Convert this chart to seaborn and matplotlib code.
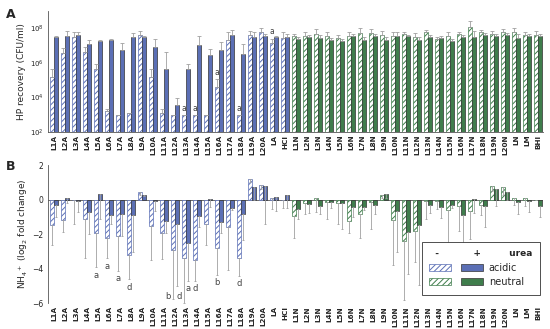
import numpy as np
import pandas as pd
import matplotlib
matplotlib.use("Agg")
import matplotlib.pyplot as plt
import seaborn as sns
from matplotlib.patches import Patch
from matplotlib.legend_handler import HandlerTuple

# categories: 22 acidic (L1A..L20A, LA, HCl) then 23 neutral
categories = [f"L{i}A" for i in range(1, 21)] + ["LA", "HCl"] + \
             [f"L{i}N" for i in range(1, 21)] + ["LN", "LM", "BHI"]
n_acidic = 22

# panel A: HP recovery, log10(CFU/ml); "top" = upper end of error bar
rec_minus = [5.16, 6.56, 7.47, 6.65, 5.65, 3.2, 2.97, 3.07, 7.62, 5.16, 3.1, 2.97, 2.97, 2.97, 2.97,
             4.58, 7.29, 2.97, 7.62, 7.76, 7.14, 7.45,
             7.52, 7.56, 7.68, 7.56, 7.44, 7.56, 7.72, 7.72, 7.62, 7.52, 7.64, 7.48, 7.76, 7.37, 7.56,
             7.64, 8.07, 7.78, 7.64, 7.76, 7.78, 7.62, 7.62]
rec_minus_top = [5.65, 6.88, 7.76, 6.9, 5.92, 3.32, 2.97, 3.07, 7.85, 5.63, 3.3, 2.97, 2.97, 2.97, 2.97,
                 5.05, 7.76, 2.97, 7.83, 8.0, 7.4, 7.8,
                 7.68, 7.75, 7.95, 7.78, 7.62, 7.8, 8.02, 7.95, 7.85, 7.78, 7.8, 7.72, 7.92, 7.5, 7.75,
                 7.8, 8.43, 7.9, 7.86, 7.95, 8.03, 7.8, 7.82]
rec_plus = [7.47, 7.56, 7.62, 7.08, 7.25, 7.33, 6.75, 7.47, 7.47, 6.9, 5.65, 3.55, 5.63, 7.04, 6.46,
            6.75, 7.62, 6.5, 7.47, 7.56, 7.49, 7.5,
            7.37, 7.47, 7.44, 7.33, 7.23, 7.52, 7.33, 7.52, 7.33, 7.52, 7.52, 7.29, 7.47, 7.44, 7.23,
            7.47, 7.47, 7.62, 7.52, 7.58, 7.44, 7.52, 7.52]
rec_plus_top = [7.56, 7.81, 7.8, 7.29, 7.3, 7.4, 7.17, 7.72, 7.56, 7.37, 6.6, 3.94, 5.92, 7.52, 6.79,
                7.2, 7.91, 7.08, 7.76, 7.66, 7.56, 7.68,
                7.5, 7.62, 7.6, 7.45, 7.35, 7.68, 7.5, 7.65, 7.5, 7.75, 7.62, 7.5, 7.58, 7.55, 7.38,
                7.58, 7.82, 7.72, 7.64, 7.72, 7.66, 7.66, 7.66]

# panel B: NH4+ log2 fold change; "low" = lower end of error bar
nh4_minus = [-1.45, -1.2, -0.03, -1.1, -1.95, -2.2, -2.1, -3.2, 0.45, -1.5, -1.95, -2.9, -3.35, -3.5, -1.4,
             -2.8, -1.6, -3.35, 1.2, 0.85, 0.12, 0.0,
             -0.96, -0.2, 0.1, -0.15, -0.2, -1.23, -0.8, -0.15, 0.25, -1.15, -2.4, -1.8, -0.1, -0.05, -0.6,
             -0.35, -0.65, -0.3, 0.8, 0.75, 0.1, 0.1, 0.0]
nh4_minus_low = [-2.6, -1.85, -1.4, -3.35, -3.9, -3.4, -4.1, -4.6, 0.3, -3.5, -3.45, -5.75, -6.0, -4.7, -2.65,
                 -4.35, -4.05, -4.4, 1.0, 0.6, -0.55, -0.5,
                 -2.2, -0.8, -0.7, -1.1, -1.4, -1.9, -2.2, -1.7, 0.1, -3.8, -5.8, -3.6, -1.1, -0.55, -3.0,
                 -1.8, -2.3, -0.9, 0.5, 0.3, -0.3, -0.35, 0.0]
nh4_plus = [-0.3, 0.12, -0.05, -0.7, 0.35, -0.9, -0.85, -0.9, 0.3, -0.05, -1.25, -1.4, -2.5, -0.95, 0.02,
            -1.3, -0.5, -0.8, 0.75, 0.8, 0.15, 0.29,
            -0.55, -0.25, -0.35, -0.15, -0.2, -0.45, -0.45, -0.3, 0.35, -0.65, -1.87, -1.44, -0.3, -0.4, -0.3,
            -0.9, 0.05, -0.35, 0.6, 0.45, -0.15, -0.1, -0.35]
nh4_plus_low = [-1.0, -0.2, -0.7, -2.0, -1.1, -1.4, -2.1, -3.05, 0.2, -0.65, -1.9, -5.0, -4.7, -1.6, -0.45,
                -1.9, -0.6, -2.35, 0.0, -1.4, -0.65, -0.48,
                -1.1, -0.75, -0.8, -0.5, -1.7, -1.0, -0.6, -0.8, 0.1, -3.0, -4.33, -4.94, -0.75, -1.05, -0.5,
                -3.05, -0.75, -1.6, -0.35, 0.0, -0.8, -0.7, -1.0]

# significance letters
letters_a = ["L13A", "L14A", "L16A", "L18A", "LA"]  # 'a' above hatched bars, panel A
letters_b = [("L5A", "-", "a"), ("L6A", "-", "a"), ("L7A", "-", "a"), ("L8A", "-", "d"),
             ("L12A", "-", "b"), ("L13A", "-", "d"), ("L13A", "+", "a"), ("L14A", "-", "d"),
             ("L16A", "-", "b"), ("L18A", "-", "d")]

BLUE = "#5b6fb5"
GREEN = "#3f7d4c"
ERR = "#a0a0a0"

sns.set_style("white")
plt.rcParams["font.family"] = ["DejaVu Sans"]
plt.rcParams["hatch.linewidth"] = 0.7


def long_frame(minus, plus):
    return pd.DataFrame({
        "cat": categories * 2,
        "urea": ["-"] * len(categories) + ["+"] * len(categories),
        "value": list(minus) + list(plus),
    })


def style_bars(ax):
    for k, cont in enumerate(ax.containers[:2]):
        for i, p in enumerate(cont.patches):
            col = BLUE if i < n_acidic else GREEN
            if k == 0:
                p.set_facecolor("white")
                p.set_edgecolor(col)
                p.set_hatch("//////")
            else:
                p.set_facecolor(col)
                p.set_edgecolor("#333333")
            p.set_linewidth(0.5)


def centers(ax, k):
    return np.array([p.get_x() + p.get_width() / 2 for p in ax.containers[k].patches])


fig = plt.figure(figsize=(5.5, 3.29), dpi=100)
axA = fig.add_axes([0.088, 0.599, 0.9, 0.368])
axB = fig.add_axes([0.088, 0.078, 0.9, 0.42])

# ---------- panel A ----------
dfA = long_frame(10 ** np.array(rec_minus), 10 ** np.array(rec_plus))
sns.barplot(data=dfA, x="cat", y="value", hue="urea", hue_order=["-", "+"],
            errorbar=None, width=0.7, legend=False, ax=axA)
axA.set_yscale("log")
style_bars(axA)
for k, (v, t) in enumerate([(rec_minus, rec_minus_top), (rec_plus, rec_plus_top)]):
    v = 10 ** np.array(v)
    t = 10 ** np.array(t)
    axA.errorbar(centers(axA, k), v, yerr=[np.zeros_like(v), t - v], fmt="none",
                 ecolor=ERR, elinewidth=0.6, capsize=1.3, capthick=0.6)
xa = centers(axA, 0)
for c in letters_a:
    i = categories.index(c)
    axA.text(xa[i], 10 ** (rec_minus_top[i] + 0.12), "a", ha="center", va="bottom",
             fontsize=5.5, color="#444444")
axA.set_ylim(1e2, 1e9)
axA.set_xlim(-0.5, len(categories) - 0.5)
axA.set_yticks([1e2, 1e4, 1e6, 1e8])
axA.yaxis.set_minor_locator(matplotlib.ticker.NullLocator())
axA.set_xlabel("")
axA.set_ylabel("HP recovery (CFU/ml)", fontsize=6.5, labelpad=3)
axA.tick_params(axis="y", labelsize=5, length=2, width=0.5, pad=1.5)
axA.tick_params(axis="x", labelsize=5.2, length=0, pad=2, rotation=90)
for lab in axA.get_xticklabels():
    lab.set_fontweight("bold")
sns.despine(ax=axA)
for s in ["left", "bottom"]:
    axA.spines[s].set_linewidth(0.6)
    axA.spines[s].set_color("#555555")

# ---------- panel B ----------
dfB = long_frame(nh4_minus, nh4_plus)
sns.barplot(data=dfB, x="cat", y="value", hue="urea", hue_order=["-", "+"],
            errorbar=None, width=0.7, legend=False, ax=axB)
style_bars(axB)
for k, (v, lo) in enumerate([(nh4_minus, nh4_minus_low), (nh4_plus, nh4_plus_low)]):
    v = np.array(v)
    lo = np.array(lo)
    axB.errorbar(centers(axB, k), v, yerr=[v - lo, np.zeros_like(v)], fmt="none",
                 ecolor=ERR, elinewidth=0.6, capsize=1.0, capthick=0.6)
axB.axhline(0, color="#555555", lw=0.6, zorder=0.5)
for c, u, letter in letters_b:
    i = categories.index(c)
    k = 0 if u == "-" else 1
    lo = (nh4_minus_low if k == 0 else nh4_plus_low)[i]
    x = centers(axB, k)[i]
    y = lo - 0.2
    if y < -5.4:
        y, x = -5.35, x - 0.45
    axB.text(x, y, letter, ha="center", va="top", fontsize=6, color="#444444")
axB.set_ylim(-6, 2)
axB.set_xlim(-0.5, len(categories) - 0.5)
axB.set_yticks([-6, -4, -2, 0, 2])
axB.set_xlabel("")
axB.set_ylabel("NH$_4$$^+$ (log$_2$ fold change)", fontsize=6.5, labelpad=2)
axB.tick_params(axis="y", labelsize=5.5, length=2, width=0.5, pad=1.5)
axB.tick_params(axis="x", labelsize=5.2, length=0, pad=2, rotation=90)
for lab in axB.get_xticklabels():
    lab.set_fontweight("bold")
sns.despine(ax=axB, bottom=True)
axB.spines["left"].set_linewidth(0.6)
axB.spines["left"].set_color("#555555")

handles = [(Patch(facecolor="white", edgecolor=BLUE, hatch="//////", lw=0.5),
            Patch(facecolor=BLUE, edgecolor="#333333", lw=0.5)),
           (Patch(facecolor="white", edgecolor=GREEN, hatch="//////", lw=0.5),
            Patch(facecolor=GREEN, edgecolor="#333333", lw=0.5))]
leg = axB.legend(handles, ["acidic", "neutral"], title="  -           +         urea",
                 handler_map={tuple: HandlerTuple(ndivide=None, pad=1.0)},
                 loc="lower right", bbox_to_anchor=(1.0, 0.04), fontsize=7,
                 title_fontsize=6.5, handlelength=5.5, handleheight=0.7, borderpad=0.8,
                 labelspacing=0.45, handletextpad=0.6, borderaxespad=0.3,
                 fancybox=False, framealpha=1, edgecolor="#333333")
leg.get_frame().set_linewidth(0.6)
leg.get_title().set_fontweight("bold")
leg._legend_box.align = "left"

fig.text(0.01, 0.975, "A", fontsize=9, fontweight="bold", va="top")
fig.text(0.01, 0.515, "B", fontsize=9, fontweight="bold", va="top")

fig.savefig("out.png", dpi=100)
